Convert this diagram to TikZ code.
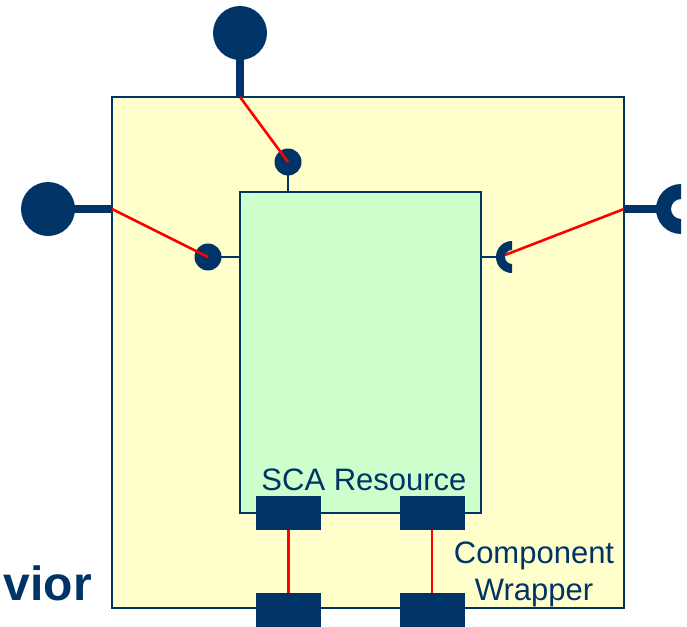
\documentclass[tikz,border=0pt]{standalone}
\usepackage{fontspec}
\setmainfont{Liberation Sans}
\usetikzlibrary{calc}
\definecolor{navy}{HTML}{003366}
\definecolor{wrapfill}{HTML}{FFFFCC}
\definecolor{resfill}{HTML}{CCFFCC}
\tikzset{
  bigball/.style={circle,fill=navy,inner sep=0pt,minimum size=54pt},
  smallball/.style={circle,fill=navy,inner sep=0pt,minimum size=27pt},
  stem/.style={navy,line width=8pt},
  thinlink/.style={navy,line width=1.8pt},
  redlink/.style={red,line width=2.6pt},
  portbox/.style={rectangle,fill=navy,inner sep=0pt,minimum width=65pt,minimum height=34pt},
  boxline/.style={draw=navy,line width=1.4pt},
  label/.style={text=navy,inner sep=0pt,font=\fontsize{31}{37}\selectfont}
}
\begin{document}
\begin{tikzpicture}[x=1pt,y=-1pt]
\useasboundingbox[fill=white] (0,0) rectangle (687,626);
% boxes
\path[boxline,fill=wrapfill] (112,97) rectangle (624,608);
\path[boxline,fill=resfill] (240,192) rectangle (481,513);
\coordinate (wtop) at (240,97);
\coordinate (wleft) at (112,209);
\coordinate (wright) at (624,209);
\coordinate (rtop) at (288,192);
\coordinate (rleft) at (240,257);
\coordinate (rright) at (481,257);
% top lollipop
\node[bigball] (tl) at (240,33) {};
\draw[stem] (tl.center) -- (wtop);
\node[smallball] (ts) at (288,162) {};
\draw[thinlink] (ts.center) -- (rtop);
\draw[redlink] (wtop) -- (ts.center);
% left lollipop
\node[bigball] (ll) at (48,209) {};
\draw[stem] (ll.center) -- (wleft);
\node[smallball] (ls) at (208,257) {};
\draw[thinlink] (ls.center) -- (rleft);
\draw[redlink] (wleft) -- (ls.center);
% right sockets
\coordinate (rb) at (681,209);
\coordinate (rs) at (512,257);
\draw[stem] (wright) -- (657,209);
\fill[navy] ($(rb)+(0,-25)$) arc[start angle=90,end angle=270,radius=25pt]
   -- ($(rb)+(0,10)$) arc[start angle=270,end angle=90,radius=10pt] -- cycle;
\draw[thinlink] (rright) -- (497,257);
\fill[navy] ($(rs)+(0,-16)$) arc[start angle=90,end angle=270,radius=16pt]
   -- ($(rs)+(0,7)$) arc[start angle=270,end angle=90,radius=7pt] -- cycle;
\coordinate (rsin) at (505,255);
\draw[redlink] (wright) -- (rsin);
% ports
\node[portbox] (p1) at (288.5,513) {};
\node[portbox] (p2) at (432,513) {};
\node[portbox] (p3) at (288.5,610) {};
\node[portbox] (p4) at (432,610) {};
\draw[redlink] (p1.south) -- (p3.north);
\draw[redlink] (p2.south) -- (p4.north);
% texts
\node[label,anchor=base] (sca) at (364,490) {SCA Resource};
\node[label,anchor=north,align=center] (cw) at (534,541.5) {Component\\Wrapper};
\node[text=navy,inner sep=0pt,anchor=base east,font=\fontsize{48}{56}\selectfont\bfseries] (vior) at (92,600) {vior};
\end{tikzpicture}
\end{document}
